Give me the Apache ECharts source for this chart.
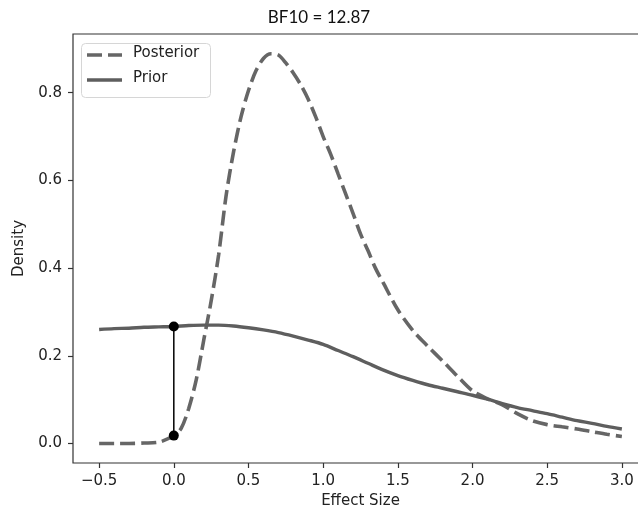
<!DOCTYPE html>
<html>
<head>
<meta charset="utf-8">
<script src="https://cdn.jsdelivr.net/npm/echarts@6/dist/echarts.min.js"></script>
<style>html,body{margin:0;padding:0;background:#fff;}#c{width:638px;height:512px;}</style>
</head>
<body>
<div id="c"></div>
<script>
const titleText = 'BF10 = 12.87';
const legendNames = ['Posterior', 'Prior'];
const xTicks = [-0.5, 0.0, 0.5, 1.0, 1.5, 2.0, 2.5, 3.0];
const yTicks = [0.0, 0.2, 0.4, 0.6, 0.8];

const priorX = [-0.5,-0.4,-0.3,-0.2,-0.1,0.0,0.1,0.2,0.3,0.4,0.5,0.6,0.7,0.8,0.9,1.0,1.1,1.2,1.3,1.4,1.5,1.6,1.7,1.8,1.9,2.0,2.1,2.2,2.3,2.4,2.5,2.6,2.7,2.8,2.9,3.0];
const priorY = [0.260,0.262,0.263,0.265,0.266,0.267,0.269,0.270,0.270,0.268,0.264,0.259,0.253,0.245,0.236,0.226,0.212,0.198,0.183,0.168,0.155,0.144,0.134,0.126,0.118,0.110,0.101,0.091,0.082,0.075,0.068,0.060,0.052,0.046,0.039,0.033];

const postX = [-0.5,-0.4,-0.3,-0.2,-0.1,0.0,0.05,0.1,0.15,0.2,0.25,0.3,0.35,0.4,0.45,0.5,0.55,0.6,0.65,0.7,0.75,0.8,0.85,0.9,0.95,1.0,1.05,1.1,1.15,1.2,1.25,1.3,1.35,1.4,1.5,1.6,1.7,1.8,1.9,2.0,2.1,2.2,2.3,2.4,2.5,2.6,2.7,2.8,2.9,3.0];
const postY = [0.000,0.000,0.000,0.001,0.003,0.018,0.035,0.080,0.145,0.235,0.325,0.430,0.565,0.665,0.745,0.805,0.850,0.878,0.889,0.886,0.868,0.845,0.818,0.785,0.745,0.700,0.660,0.615,0.570,0.525,0.478,0.440,0.400,0.368,0.305,0.258,0.222,0.188,0.153,0.120,0.102,0.088,0.068,0.052,0.043,0.038,0.033,0.027,0.021,0.016];

const markX = [0.0, 0.0];
const markY = [0.018, 0.267];

const zip = (a, b) => a.map((v, i) => [v, b[i]]);
const fmt = v => v.toFixed(1).replace('-', '\u2212');

const postColor = '#666666';
const priorColor = '#5e5e5e';
const font = 'DejaVu Sans';

const chart = echarts.init(document.getElementById('c'));
chart.setOption({
  animation: false,
  title: {
    text: titleText, left: 'center', top: 4,
    textStyle: { fontFamily: 'Lato', fontSize: 17, fontWeight: 'normal', color: '#111' }
  },
  grid: {
    left: 73, top: 34, bottom: 49, right: -10,
    outerBoundsMode: 'none', containLabel: false,
    show: true, borderColor: '#333', borderWidth: 1.2, backgroundColor: 'transparent'
  },
  xAxis: {
    type: 'value', min: -0.675, max: 3.175,
    name: 'Effect Size', nameLocation: 'middle', nameGap: 26,
    nameTextStyle: { fontFamily: font, fontSize: 15, color: '#222' },
    axisLine: { show: false, onZero: false },
    splitLine: { show: false },
    axisTick: { show: true, customValues: xTicks, length: 5, lineStyle: { color: '#333', width: 1.2 } },
    axisLabel: { customValues: xTicks, formatter: fmt, margin: 11, fontFamily: font, fontSize: 15, color: '#222' }
  },
  yAxis: {
    type: 'value', min: -0.0445, max: 0.934,
    name: 'Density', nameLocation: 'middle', nameGap: 46, nameRotate: 90,
    nameTextStyle: { fontFamily: font, fontSize: 15, color: '#222' },
    axisLine: { show: false, onZero: false },
    splitLine: { show: false },
    axisTick: { show: true, customValues: yTicks, length: 5, lineStyle: { color: '#333', width: 1.2 } },
    axisLabel: { customValues: yTicks, formatter: fmt, margin: 11, fontFamily: font, fontSize: 15, color: '#222' }
  },
  graphic: [
    { type: 'rect', left: 81, top: 43, z: 50,
      shape: { width: 129, height: 54, r: 4 },
      style: { fill: 'rgba(255,255,255,0.85)', stroke: '#d6d6d6', lineWidth: 1 } },
    { type: 'line', z: 51, shape: { x1: 87, y1: 55, x2: 122, y2: 55 },
      style: { stroke: postColor, lineWidth: 3.6, lineDash: [15, 6] } },
    { type: 'text', z: 51, left: 133, top: 46,
      style: { text: legendNames[0], font: '15px "DejaVu Sans"', fill: '#222' } },
    { type: 'line', z: 51, shape: { x1: 87, y1: 80, x2: 122, y2: 80 },
      style: { stroke: priorColor, lineWidth: 3.4 } },
    { type: 'text', z: 51, left: 133, top: 71,
      style: { text: legendNames[1], font: '15px "DejaVu Sans"', fill: '#222' } }
  ],
  series: [
    {
      name: legendNames[0], type: 'line', data: zip(postX, postY), smooth: 0.3,
      symbol: 'none', color: postColor,
      lineStyle: { width: 3.6, color: postColor, type: [15, 6] }
    },
    {
      name: legendNames[1], type: 'line', data: zip(priorX, priorY), smooth: 0.3,
      symbol: 'none', color: priorColor,
      lineStyle: { width: 3.4, color: priorColor }
    },
    {
      name: 'BF', type: 'line', data: zip(markX, markY),
      symbol: 'circle', symbolSize: 10, color: '#000',
      itemStyle: { color: '#000' },
      lineStyle: { width: 1.5, color: '#000' }
    }
  ]
});
</script>
</body>
</html>
